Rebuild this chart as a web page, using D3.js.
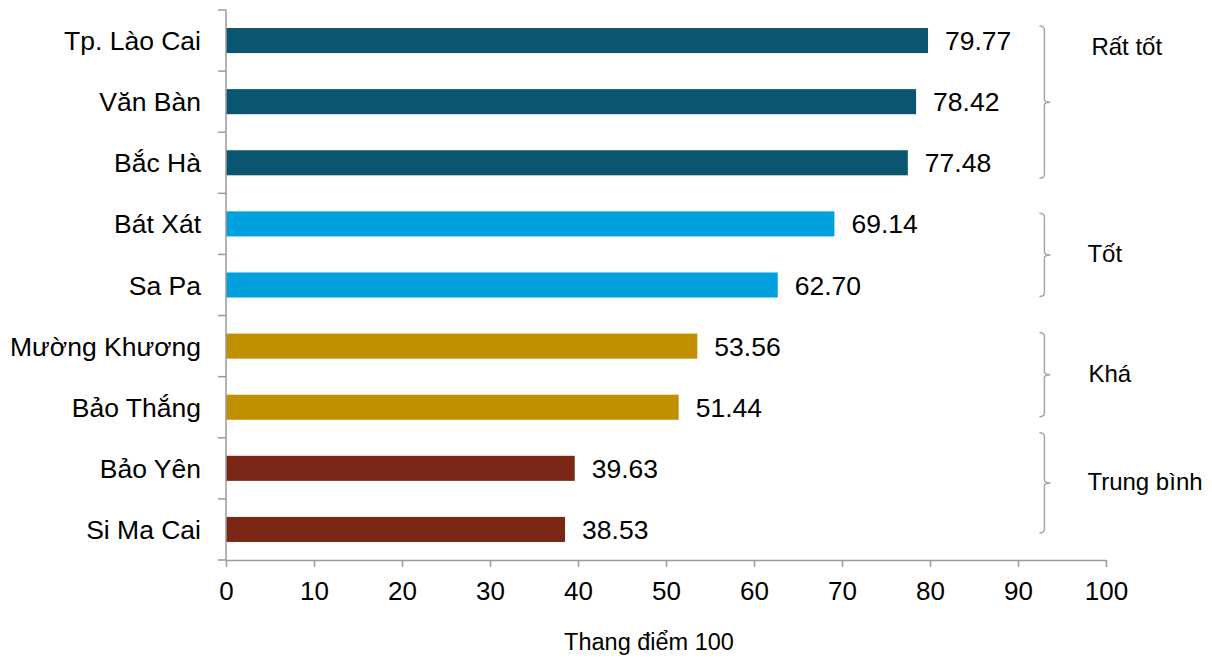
<!DOCTYPE html>
<html><head><meta charset="utf-8">
<script src="https://cdn.jsdelivr.net/npm/d3@7"></script>
<style>
body{margin:0;background:#fff;}
svg{display:block;font-family:"Liberation Sans",Arial,sans-serif;}
</style></head>
<body>
<svg id="chart" width="1212" height="662"></svg>
<script>
const categories = ["Tp. Lào Cai","Văn Bàn","Bắc Hà","Bát Xát","Sa Pa","Mường Khương","Bảo Thắng","Bảo Yên","Si Ma Cai"];
const values = [79.77,78.42,77.48,69.14,62.70,53.56,51.44,39.63,38.53];
const groupOf = ["Rất tốt","Rất tốt","Rất tốt","Tốt","Tốt","Khá","Khá","Trung bình","Trung bình"];
const groups = ["Rất tốt","Tốt","Khá","Trung bình"];
const xTicks = [0,10,20,30,40,50,60,70,80,90,100];
const axisTitle = "Thang điểm 100";

const colors = {"Rất tốt":"#0A5570","Tốt":"#00A1DE","Khá":"#C09000","Trung bình":"#7A2815"};
const axisColor = "#9a9a9a";

const svg = d3.select("#chart");
const x = d3.scaleLinear().domain([0,100]).range([226,1106]);
const y = d3.scaleBand().domain(categories).range([10,560]).paddingInner(0.59).paddingOuter(0.295);

// bars
svg.append("g").selectAll("rect").data(categories).join("rect")
  .attr("x", x(0)).attr("y", d=>y(d))
  .attr("width", (d,i)=>x(values[i])-x(0))
  .attr("height", y.bandwidth())
  .attr("fill", (d,i)=>colors[groupOf[i]]);

// value labels
svg.append("g").selectAll("text").data(categories).join("text")
  .attr("x",(d,i)=>x(values[i])+17)
  .attr("y",d=>y(d)+y.bandwidth()/2)
  .attr("dy","0.36em")
  .attr("font-size",26.5).attr("fill","#000")
  .text((d,i)=>values[i].toFixed(2));

// category labels
svg.append("g").selectAll("text").data(categories).join("text")
  .attr("x",x(0)-25)
  .attr("y",d=>y(d)+y.bandwidth()/2)
  .attr("dy","0.36em").attr("text-anchor","end")
  .attr("font-size",26.5).attr("fill","#000")
  .text(d=>d);

// y axis line and boundary ticks
const [r0,r1] = y.range();
const bounds = d3.range(categories.length+1).map(i=>r0+i*y.step());
svg.append("line").attr("x1",x(0)).attr("x2",x(0)).attr("y1",r0).attr("y2",r1)
  .attr("stroke",axisColor).attr("stroke-width",1.5);
svg.append("g").selectAll("line").data(bounds).join("line")
  .attr("x1",x(0)-8).attr("x2",x(0)).attr("y1",d=>d).attr("y2",d=>d)
  .attr("stroke",axisColor).attr("stroke-width",1.5);

// x axis
const xa = svg.append("g").attr("transform",`translate(0,${r1})`)
  .call(d3.axisBottom(x).tickValues(xTicks).tickSize(7).tickSizeOuter(0).tickPadding(15).tickFormat(d3.format("d")));
xa.select(".domain").attr("stroke",axisColor).attr("stroke-width",1.5);
xa.selectAll(".tick line").attr("stroke",axisColor).attr("stroke-width",1.5);
xa.selectAll(".tick text").attr("font-size",26).attr("fill","#000").attr("font-family","Liberation Sans, Arial, sans-serif");

svg.append("text").attr("x",649).attr("y",650).attr("text-anchor","middle")
  .attr("font-size",23.5).attr("fill","#000").text(axisTitle);

// brackets
const bx = x(93);
const bracketStyle = {
  "Rất tốt":{t:-2,b:3,lab:"top",dx:47},
  "Tốt":{t:2,b:-1,lab:"mid",dx:43},
  "Khá":{t:-1,b:-3,lab:"mid",dx:44},
  "Trung bình":{t:-23,b:-9,lab:"mid",dx:43}
};
groups.forEach(g=>{
  const idx = categories.map((c,i)=>i).filter(i=>groupOf[i]===g);
  const st = bracketStyle[g];
  const top = y(categories[idx[0]]) + st.t;
  const bot = y(categories[idx[idx.length-1]]) + y.bandwidth() + st.b;
  const mid = (top+bot)/2;
  const p = d3.path();
  p.moveTo(bx-5,top);
  p.quadraticCurveTo(bx,top,bx,top+4);
  p.lineTo(bx,mid-3);
  p.quadraticCurveTo(bx,mid,bx+6,mid);
  p.quadraticCurveTo(bx,mid,bx,mid+3);
  p.lineTo(bx,bot-4);
  p.quadraticCurveTo(bx,bot,bx-5,bot);
  svg.append("path").attr("d",p.toString()).attr("fill","none")
    .attr("stroke","#a6a6a6").attr("stroke-width",1.5);
  const ly = st.lab==="top" ? top+29 : mid+7;
  svg.append("text").attr("x",bx+st.dx).attr("y",ly).attr("font-size",24).attr("fill","#000").text(g);
});
</script>
</body></html>
